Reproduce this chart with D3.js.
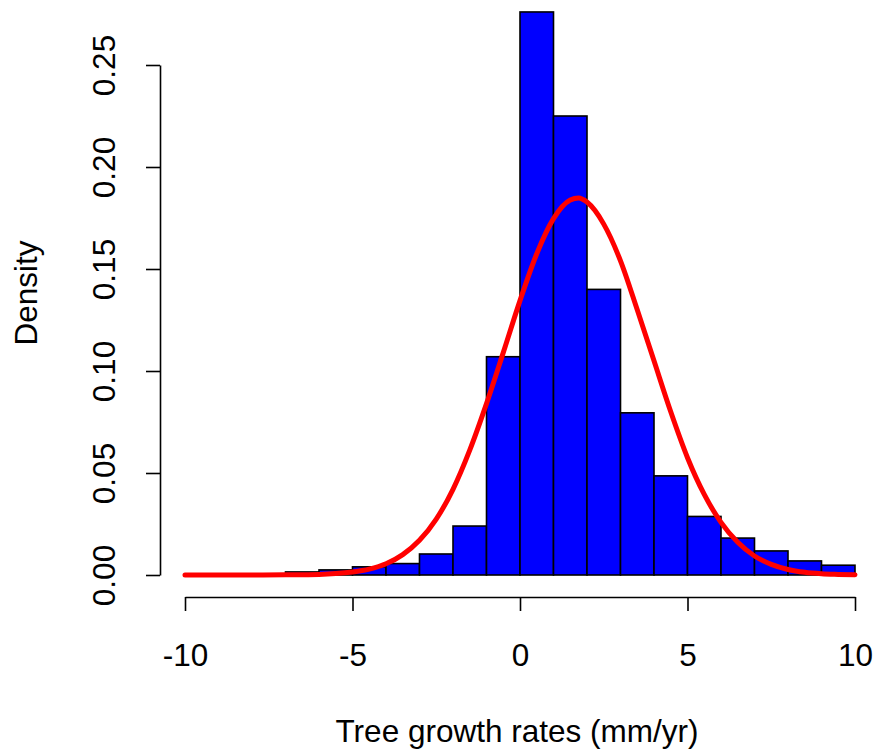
<!DOCTYPE html>
<html>
<head>
<meta charset="utf-8">
<script src="https://cdn.jsdelivr.net/npm/d3@7"></script>
<style>
  html, body { margin: 0; padding: 0; background: #fff; }
  svg text { font-family: "Liberation Sans", Arial, sans-serif; fill: #000; }
</style>
</head>
<body>
<svg id="chart" width="876" height="751"></svg>
<script>
// Histogram bins (left edge) and density values
const binStarts = [-7, -6, -5, -4, -3, -2, -1, 0, 1, 2, 3, 4, 5, 6, 7, 8, 9];
const binDensity = [0.0015, 0.0025, 0.004, 0.0056, 0.0103, 0.024, 0.107, 0.276, 0.225, 0.140, 0.0795, 0.0486, 0.0287, 0.0181, 0.0118, 0.0069, 0.0048];
const binWidth = 1;

// Red density curve
const curveX = [-10, -9, -8, -7, -6, -5.5, -5, -4.5, -4, -3.5, -3, -2.5, -2, -1.5, -1, -0.5, 0, 0.5, 1, 1.5, 1.75, 2, 2.5, 3, 3.5, 4, 4.5, 5, 5.5, 6, 6.5, 7, 7.5, 8, 8.5, 9, 9.5, 10];
const curveY = [0, 0, 0, 0.0001, 0.0003, 0.0007, 0.0015, 0.0029, 0.0055, 0.0100, 0.0170, 0.0274, 0.0420, 0.0612, 0.0840, 0.1090, 0.1345, 0.1575, 0.1747, 0.1838, 0.1848, 0.1828, 0.1720, 0.1540, 0.1300, 0.1050, 0.0800, 0.0575, 0.0395, 0.0258, 0.0160, 0.0093, 0.0052, 0.0027, 0.0013, 0.0006, 0.0003, 0.0001];

// Axis ticks
const xTicks = [-10, -5, 0, 5, 10];
const yTicks = [0, 0.05, 0.10, 0.15, 0.20, 0.25];

const xLabel = "Tree growth rates (mm/yr)";
const yLabel = "Density";

const svg = d3.select("#chart");
const x = d3.scaleLinear().domain([-10, 10]).range([185, 855]);
const y = d3.scaleLinear().domain([0, 0.25]).range([575, 65]);

// Bars
svg.append("g").selectAll("rect")
  .data(binStarts.map((s, i) => ({ s, d: binDensity[i] })))
  .join("rect")
  .attr("x", d => x(d.s))
  .attr("width", d => x(d.s + binWidth) - x(d.s))
  .attr("y", d => y(d.d))
  .attr("height", d => y(0) - y(d.d))
  .attr("fill", "#0000ff")
  .attr("stroke", "#000")
  .attr("stroke-width", 1.6);

// Curve
const line = d3.line()
  .x(d => x(d[0]))
  .y(d => y(d[1]))
  .curve(d3.curveMonotoneX);
svg.append("path")
  .datum(curveX.map((v, i) => [v, curveY[i]]))
  .attr("d", line)
  .attr("fill", "none")
  .attr("stroke", "#ff0000")
  .attr("stroke-width", 5)
  .attr("stroke-linecap", "round")
  .attr("stroke-linejoin", "round");

// X axis
const xAxis = svg.append("g")
  .attr("transform", "translate(0,597)")
  .call(d3.axisBottom(x).tickValues(xTicks).tickSize(14).tickSizeOuter(0).tickFormat(d => String(d)));
xAxis.select(".domain").attr("stroke", "#000").attr("stroke-width", 1.6);
xAxis.selectAll(".tick line").attr("stroke", "#000").attr("stroke-width", 1.6);
xAxis.selectAll(".tick text")
  .attr("y", 69).attr("dy", null)
  .style("font-size", "31.5px");

// Y axis
const yAxis = svg.append("g")
  .attr("transform", "translate(160,0)")
  .call(d3.axisLeft(y).tickValues(yTicks).tickSize(14).tickSizeOuter(0).tickFormat(d3.format(".2f")));
yAxis.select(".domain").attr("stroke", "#000").attr("stroke-width", 1.6);
yAxis.selectAll(".tick line").attr("stroke", "#000").attr("stroke-width", 1.6);
yAxis.selectAll(".tick text")
  .attr("x", null).attr("dy", null)
  .attr("text-anchor", "middle")
  .attr("transform", "translate(-45,0) rotate(-90)")
  .style("font-size", "31.5px");

// Axis titles
svg.append("text")
  .attr("x", 517).attr("y", 742)
  .attr("text-anchor", "middle")
  .style("font-size", "31.5px")
  .text(xLabel);

svg.append("text")
  .attr("transform", "translate(37,293) rotate(-90)")
  .attr("text-anchor", "middle")
  .style("font-size", "31.5px")
  .text(yLabel);
</script>
</body>
</html>
